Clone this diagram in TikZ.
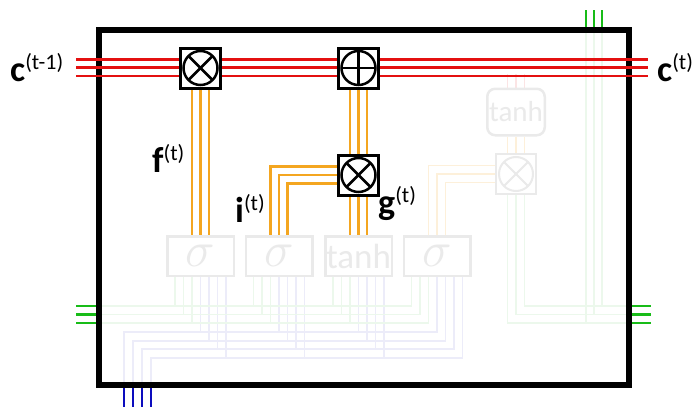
\documentclass[tikz,border=0pt]{standalone}
\usepackage{fontspec}
\usepackage{graphicx}
\setmainfont{Carlito}
\usetikzlibrary{calc}

\pgfdeclarelayer{background}
\pgfsetlayers{background,main}

\definecolor{cellred}{RGB}{228,16,16}
\definecolor{gateorange}{RGB}{244,166,32}
\definecolor{hgreen}{RGB}{24,188,24}
\definecolor{xblue}{RGB}{12,12,190}
\definecolor{fadegray}{RGB}{234,234,234}
\definecolor{fadegreen}{RGB}{236,248,236}
\definecolor{fadeblue}{RGB}{236,236,249}
\definecolor{fadeorange}{RGB}{253,240,218}
\definecolor{fadered}{RGB}{251,228,228}

\newcommand{\statelbl}[2]{\textbf{#1}\raisebox{0.32em}{\fontsize{22}{22}\selectfont(#2)}}
\newcommand{\gatesig}{\scalebox{2}{\fontsize{24}{24}\selectfont$\sigma$}}

\begin{document}
\begin{tikzpicture}[x=1pt,y=-1pt,line join=miter]
  % ----- styles -----
  \tikzset{
    cellbox/.style={draw=black,line width=6pt},
    opbox/.style={draw=black,line width=3pt,fill=white,minimum size=40pt,inner sep=0pt},
    sym/.style={draw=black,line width=2.5pt},
    fadesym/.style={draw=fadegray,line width=2pt},
    multop/.style={opbox,path picture={
        \draw[sym] (path picture bounding box.center) circle (17);
        \draw[sym] ($(path picture bounding box.center)+(-12,-12)$) -- ++(24,24);
        \draw[sym] ($(path picture bounding box.center)+(-12,12)$) -- ++(24,-24);}},
    plusop/.style={opbox,path picture={
        \draw[sym] (path picture bounding box.center) circle (17);
        \draw[sym] ($(path picture bounding box.center)+(-17,0)$) -- ++(34,0);
        \draw[sym] ($(path picture bounding box.center)+(0,-17)$) -- ++(0,34);}},
    fadeop/.style={draw=fadegray,line width=2.5pt,fill=white,minimum size=40pt,inner sep=0pt,
      path picture={
        \draw[fadesym] (path picture bounding box.center) circle (17);
        \draw[fadesym] ($(path picture bounding box.center)+(-12,-12)$) -- ++(24,24);
        \draw[fadesym] ($(path picture bounding box.center)+(-12,12)$) -- ++(24,-24);}},
    gatebox/.style={draw=fadegray,line width=2.5pt,fill=white,minimum width=66.5pt,
      minimum height=39.5pt,inner sep=0pt,text=fadegray,font=\fontsize{35}{35}\selectfont},
    cwire/.style={draw=cellred,line width=2.6pt},
    owire/.style={draw=gateorange,line width=2.6pt},
    hwire/.style={draw=hgreen,line width=2.6pt},
    xwire/.style={draw=xblue,line width=2.6pt},
    fwire/.style={line width=1.8pt},
    vlbl/.style={font=\fontsize{36}{36}\selectfont,inner sep=0pt,anchor=base west}
  }

  \useasboundingbox (0,0) rectangle (694,407);

  % ----- ports on the cell border -----
  \foreach \k/\yy in {1/59.3,2/67.7,3/76}{
    \coordinate (cin\k) at (76,\yy);
    \coordinate (cout\k) at (648,\yy);
  }
  \foreach \k/\yy in {1/306,2/314.5,3/323}{
    \coordinate (hin\k) at (96,\yy);
    \coordinate (hout\k) at (632,\yy);
  }
  \foreach \k/\xx in {1/586,2/594,3/602}
    \coordinate (hup\k) at (\xx,27);
  \foreach \k/\xx/\yy in {1/124/332,2/133/340.7,3/142/349.3,4/151/358}{
    \coordinate (xin\k) at (\xx,388);
    \coordinate (xrow\k) at (\xx,\yy);
  }

  % ----- gates (faded) -----
  \node[gatebox] (sigf)  at (200.5,256) {\gatesig};
  \node[gatebox] (sigi)  at (279,256)   {\gatesig};
  \node[gatebox] (tanhg) at (358.5,256) {tanh};
  \node[gatebox] (sigo)  at (437,256)   {\gatesig};
  \node[gatebox,rounded corners=8pt,minimum width=57.5pt,minimum height=46.5pt,
    font=\fontsize{29}{29}\selectfont] (tanhc) at (516,112) {tanh};
  \node[fadeop] (multo) at (516,174) {};

  % ----- operators -----
  \node[multop] (multf) at (200.5,68) {};
  \node[plusop] (plusc) at (358.5,68) {};
  \node[multop] (multi) at (358.5,175) {};

  \begin{pgfonlayer}{background}
    % faded wiring into the gates
    \foreach \g in {sigf,sigi,tanhg,sigo}{
      \foreach \k/\dx in {1/-25.5,2/-17,3/-8.5}
        \draw[fwire,fadegreen] (hin\k) -| ($(\g.south)+(\dx,0)$);
      \foreach \k/\dx in {1/0,2/8.5,3/17,4/25.5}
        \draw[fwire,fadeblue] (xin\k) -- (xrow\k) -| ($(\g.south)+(\dx,0)$);
    }
    % faded output path
    \foreach \dx in {-8.5,0,8.5}{
      \draw[fwire,fadered] (tanhc.north) ++(\dx,0) -- ++(0,-14);
      \draw[fwire,fadeorange] ($(tanhc.south)+(\dx,0)$) -- ($(multo.north)+(\dx,0)$);
      \draw[fwire,fadeorange] ($(sigo.north)+(\dx,0)$) |- ($(multo.west)+(0,\dx)$);
    }
    \foreach \k/\dx in {1/8.5,2/0,3/-8.5}
      \draw[fwire,fadegreen] ($(multo.south)+(\dx,0)$) |- (hout\k);
    \foreach \k/\j in {1/3,2/2,3/1}
      \draw[fwire,fadegreen] (hup\k) -- (hup\k |- hout\j);

    % cell border
    \draw[cellbox] (99,30) rectangle (629,385);

    % inputs and outputs
    \foreach \k in {1,2,3}{
      \draw[hwire] (hin\k) -- ++(-20,0);
      \draw[hwire] (hout\k) -- ++(19,0);
      \draw[hwire] (hup\k) -- ++(0,-17);
    }
    \foreach \k in {1,...,4}
      \draw[xwire] (xin\k) -- ++(0,19);

    % cell state
    \foreach \k in {1,2,3}
      \draw[cwire] (cin\k) -- (cout\k);

    % gate wires
    \foreach \dx in {-8.5,0,8.5}{
      \draw[owire] ($(sigf.north)+(\dx,0)$) -- ($(multf.south)+(\dx,0)$);
      \draw[owire] ($(sigi.north)+(\dx,0)$) |- ($(multi.west)+(0,\dx)$);
      \draw[owire] ($(tanhg.north)+(\dx,0)$) -- ($(multi.south)+(\dx,0)$);
      \draw[owire] ($(multi.north)+(\dx,0)$) -- ($(plusc.south)+(\dx,0)$);
    }
  \end{pgfonlayer}

  % ----- labels -----
  \node[vlbl] (lcprev) at (10,81)  {\statelbl{c}{t-1}};
  \node[vlbl] (lcnext) at (657,81) {\statelbl{c}{t}};
  \node[vlbl] (lf)     at (152,172) {\statelbl{f}{t}};
  \node[vlbl] (li)     at (235,222) {\statelbl{i}{t}};
  \node[vlbl] (lg)     at (378,214) {\statelbl{g}{t}};
\end{tikzpicture}
\end{document}
